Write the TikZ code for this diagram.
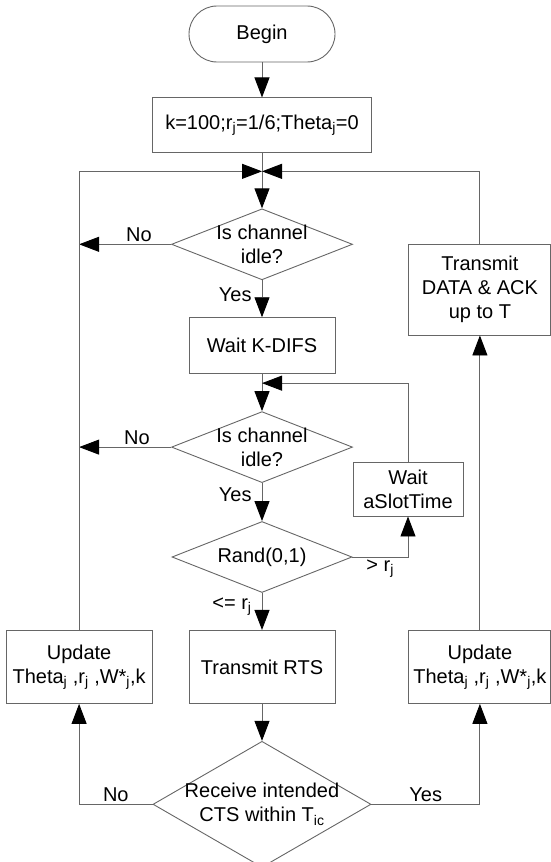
\documentclass[tikz,border=0pt]{standalone}
\usepackage{fontspec}
\setmainfont{Liberation Sans}
\usetikzlibrary{arrows.meta, positioning, shapes.geometric}
\definecolor{linje}{gray}{0.4}

\begin{document}
\begin{tikzpicture}[
    x=1pt, y=-1pt,
    node distance = 37pt and 36pt,
    font=\fontsize{20}{24}\selectfont,
    every node/.style = {inner sep=2pt, align=center, text=black},
    term/.style = {rectangle, draw=linje, line width=0.9pt, rounded corners=28pt, minimum width=146pt, minimum height=56pt},
    boks/.style = {rectangle, draw=linje, line width=0.9pt, minimum height=56pt},
    valg/.style = {diamond, draw=linje, line width=0.9pt, inner sep=0pt, minimum width=181pt, minimum height=71pt},
    pil/.style = {draw=linje, line width=0.9pt, -{Triangle[length=20pt, width=15pt, color=black]}}
    ]

  \useasboundingbox (0,0) rectangle (551,862);

  \node[term] (begin) at (262,34) {Begin} ;
  \node[boks, minimum width=219pt, minimum height=55pt] (init) [below=35pt of begin] {k=100;r\textsubscript{j}=1/6;Theta\textsubscript{j}=0} ;
  \coordinate[below=18pt of init] (mote) ;
  \node[valg, label={center:{Is channel\\idle?}}] (kanal1) [below=55pt of init] {} ;
  \node[boks, minimum width=146pt] (kdifs) [below=of kanal1] {Wait K-DIFS} ;
  \coordinate[below=9pt of kdifs] (mote2) ;
  \node[valg, label={center:{Is channel\\idle?}}] (kanal2) [below=of kdifs] {} ;
  \node[valg, minimum width=180pt, label={center:{Rand(0,1)}}] (rand) [below=38pt of kanal2] {} ;
  \node[boks, minimum width=146pt, minimum height=73pt] (rts) [below=of rand] {Transmit RTS} ;
  \node[valg, minimum width=218pt, minimum height=126pt, label={center:{Receive intended\\CTS within T\textsubscript{ic}}}] (cts) [below=of rts] {} ;

  % side column
  \node[boks, minimum width=146pt, minimum height=73pt] (updL) [left=of rts] {Update\\Theta\textsubscript{j} ,r\textsubscript{j} ,W*\textsubscript{j},k} ;
  \node[boks, minimum width=142pt, minimum height=73pt] (updR) [right=73pt of rts] {Update\\Theta\textsubscript{j} ,r\textsubscript{j} ,W*\textsubscript{j},k} ;
  \node[boks, minimum width=142pt, minimum height=91pt] (tx) at (updR |- 0,289.5) {Transmit\\DATA \& ACK\\up to T} ;
  \node[boks, minimum width=110pt, minimum height=54pt] (slot) at (408,489) {Wait\\aSlotTime} ;

  \draw[pil] (begin) -- (init) ;
  \draw[pil] (init) -- (kanal1) ;
  \draw[pil] (kdifs) -- (kanal2) ;
  \draw[pil] (rts) -- (cts) ;
  \draw[pil] (updR) -- (tx) ;

  \draw[pil] (kanal1.south) -- node[left=8pt, pos=0.38] {Yes} (kdifs.north) ;
  \draw[pil] (kanal2.south) -- node[left=8pt, pos=0.3] {Yes} (rand.north) ;
  \draw[pil] (rand.south) -- node[left=8pt, pos=0.38] {<= r\textsubscript{j}} (rts.north) ;

  \draw[pil] (kanal1.west) -- node[above, pos=0.35] {No} (kanal1.west -| updL.north) ;
  \draw[pil] (kanal2.west) -- node[above, pos=0.37] {No} (kanal2.west -| updL.north) ;
  \draw[pil] (rand.east) -| node[below, pos=0.25] {> r\textsubscript{j}} (slot.south) ;
  \draw[pil] (cts.west) -| node[above, pos=0.25] {No} (updL.south) ;
  \draw[pil] (cts.east) -| node[above, pos=0.25] {Yes} (updR.south) ;

  \draw[pil] (updL.north) |- (mote) ;
  \draw[pil] (tx.north) |- (mote) ;
  \draw[pil] (slot.north) |- (mote2) ;

\end{tikzpicture}
\end{document}
